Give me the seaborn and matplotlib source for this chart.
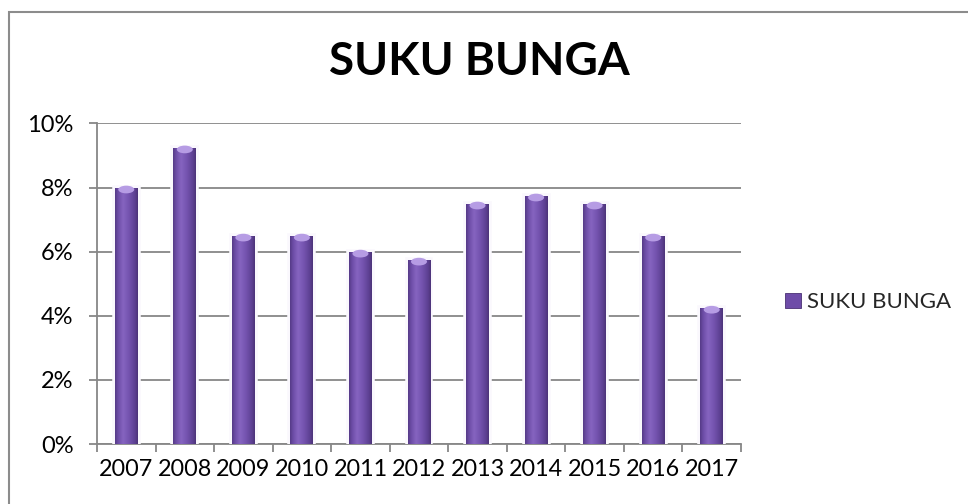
import numpy as np
import pandas as pd
import matplotlib
matplotlib.use("Agg")
import matplotlib.pyplot as plt
import seaborn as sns
from matplotlib.colors import LinearSegmentedColormap
from matplotlib.patches import Ellipse, Patch, Rectangle
from matplotlib.ticker import PercentFormatter, FixedLocator

years = ["2007", "2008", "2009", "2010", "2011", "2012",
         "2013", "2014", "2015", "2016", "2017"]
suku_bunga = [0.0800, 0.0925, 0.0650, 0.0650, 0.0600, 0.0575,
              0.0750, 0.0775, 0.0750, 0.0650, 0.0425]
series_name = "SUKU BUNGA"
y_ticks = [0.00, 0.02, 0.04, 0.06, 0.08, 0.10]

df = pd.DataFrame({"tahun": years, "nilai": suku_bunga})

sns.set_theme(style="white")
plt.rcParams["font.family"] = ["Lato", "DejaVu Sans"]

fig = plt.figure(figsize=(9.68, 5.04), dpi=100)
ax = fig.add_axes([0.1002, 0.119, 0.6653, 0.636])

grid_col = "#878787"
base_col = "#6e4ca8"

sns.barplot(data=df, x="tahun", y="nilai", color=base_col, width=0.39,
            saturation=1, ax=ax, zorder=3, edgecolor="#faf8fd", linewidth=4)

# cylinder-style horizontal shading on every bar
cyl = LinearSegmentedColormap.from_list(
    "cyl", [(0.0, "#553a86"), (0.12, "#6b4ba5"), (0.35, "#8664c0"),
            (0.6, "#7554b0"), (0.88, "#5d4092"), (1.0, "#4c3378")])
grad = np.linspace(0, 1, 64).reshape(1, -1)
for p in ax.patches:
    x0, w, h = p.get_x(), p.get_width(), p.get_height()
    im = ax.imshow(grad, cmap=cyl, aspect="auto", extent=[x0, x0 + w, 0, h],
                   zorder=4, interpolation="bicubic")
    im.set_clip_path(p)
    cap = Ellipse((x0 + w / 2, h - 0.0006), width=w * 0.7, height=0.0024,
                  facecolor="#b69ce4", edgecolor="none", zorder=5)
    cap.set_clip_path(p)
    ax.add_patch(cap)

ax.set_xlim(-0.5, len(years) - 0.5)
ax.set_ylim(0, 0.10)
ax.yaxis.set_major_locator(FixedLocator(y_ticks))
ax.yaxis.set_major_formatter(PercentFormatter(xmax=1, decimals=0))
ax.grid(axis="y", color=grid_col, linewidth=1.3, zorder=0)
ax.set_axisbelow(True)

for side in ("top", "right"):
    ax.spines[side].set_visible(False)
for side in ("left", "bottom"):
    ax.spines[side].set_color(grid_col)
    ax.spines[side].set_linewidth(1.3)

ax.set_xlabel("")
ax.set_ylabel("")
ax.tick_params(axis="y", which="major", left=True, length=6, width=1.3,
               color=grid_col, pad=11, labelsize=17, labelcolor="black")
ax.tick_params(axis="x", which="major", bottom=False, length=0, pad=11,
               labelsize=16.8, labelcolor="black")
ax.set_xticks(np.arange(-0.5, len(years), 1.0), minor=True)
ax.tick_params(axis="x", which="minor", bottom=True, length=6, width=1.3,
               color=grid_col, direction="out")

fig.text(0.495, 0.877, "SUKU BUNGA", ha="center", va="center",
         fontsize=33, fontweight="bold", color="black")

handle = Patch(facecolor=base_col, edgecolor="#4a3174", linewidth=0.6)
fig.legend([handle], [series_name], loc="center left",
           bbox_to_anchor=(0.802, 0.40), frameon=False, fontsize=16,
           handlelength=0.7, handleheight=0.7, handletextpad=0.3,
           borderaxespad=0)

fig.patches.append(Rectangle((8.5 / 968, -0.02), 1.05, 1.0 - 11.5 / 504 + 0.02,
                             transform=fig.transFigure, fill=False,
                             edgecolor="#8c8c8c", linewidth=1.5))

fig.savefig("out.png", dpi=100)
